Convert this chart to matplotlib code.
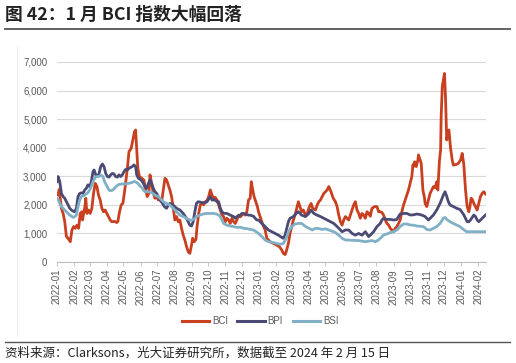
import matplotlib
matplotlib.use('Agg')
import matplotlib.pyplot as plt
import matplotlib.dates as mdates
from matplotlib.lines import Line2D
import pandas as pd

# ---- data: (days since start, index value) ----
start = '2022-01-01'
x_end = '2024-02-15'

bci = [(2, 2350), (4, 2540), (8, 1880), (11, 1700), (14, 1410), (17, 890), (20, 830), (24, 710),
       (27, 1120), (30, 1240), (33, 1180), (36, 1290), (39, 1180), (42, 1700), (45, 1760), (46, 1470),
       (50, 1880), (52, 2230), (54, 1700), (57, 1820), (60, 1700), (63, 1880), (66, 2400), (69, 2750),
       (72, 2650), (75, 2345), (78, 2170), (81, 1880), (84, 1760), (87, 1820), (90, 1700), (93, 1590),
       (96, 1470), (99, 1410), (104, 1420), (108, 1380), (110, 1420), (113, 1760), (116, 2000),
       (119, 2050), (122, 2460), (125, 2930), (128, 3450), (130, 3860), (134, 3980), (137, 4270),
       (140, 4560), (142, 4620), (144, 3920), (146, 3280), (149, 2990), (157, 2870), (160, 2520),
       (163, 2290), (166, 2400), (168, 3050), (171, 2750), (174, 2400), (177, 2230), (180, 2290),
       (183, 2170), (186, 2200), (189, 2110), (192, 2520), (195, 2930), (198, 2870), (201, 2700),
       (204, 2520), (207, 2290), (210, 1880), (213, 1470), (216, 1590), (219, 1410), (222, 1470),
       (225, 1180), (228, 940), (231, 770), (234, 540), (237, 360), (240, 300), (243, 590), (245, 830),
       (248, 710), (251, 790), (253, 1240), (256, 1700), (259, 2000), (262, 2050), (265, 2000),
       (268, 2110), (271, 2150), (274, 2290), (277, 2520), (280, 2345), (283, 2230), (286, 2260),
       (289, 2170), (292, 1990), (295, 1820), (298, 1640), (301, 1590), (304, 1410), (307, 1530),
       (310, 1470), (313, 1350), (316, 1530), (319, 1410), (322, 1350), (325, 1470), (328, 1640),
       (331, 1580), (334, 1640), (337, 1700), (340, 1640), (343, 1760), (346, 2170), (349, 2230),
       (351, 2810), (353, 2580), (356, 2290), (358, 2170), (362, 1940), (364, 1760), (368, 1530),
       (371, 1350), (376, 1120), (379, 830), (385, 710), (391, 650), (397, 590), (402, 530), (406, 420),
       (409, 300), (412, 260), (414, 360), (418, 650), (421, 1000), (424, 1240), (427, 1470),
       (430, 1640), (433, 1880), (436, 2110), (439, 1940), (442, 1760), (445, 1820), (449, 1640),
       (452, 1700), (456, 1940), (459, 2050), (462, 1880), (467, 1820), (470, 1990), (473, 2110),
       (476, 2170), (479, 2290), (482, 2400), (485, 2460), (488, 2520), (491, 2640), (495, 2460),
       (499, 2230), (503, 2110), (506, 1940), (509, 1640), (512, 1410), (515, 1290), (518, 1470),
       (521, 1590), (524, 1530), (527, 1470), (530, 1640), (533, 1820), (536, 2000), (539, 2110),
       (542, 1820), (545, 1700), (548, 1530), (551, 1700), (554, 1640), (557, 1530), (560, 1760),
       (563, 1700), (566, 1600), (569, 1880), (574, 1940), (578, 1940), (581, 1760), (584, 1760),
       (587, 1730), (590, 1640), (593, 1470), (596, 1350), (599, 1295), (602, 1180), (605, 1120),
       (608, 1060), (611, 1180), (614, 1240), (617, 1350), (620, 1470), (623, 1760), (626, 1995),
       (629, 2170), (632, 2345), (635, 2520), (638, 2750), (641, 2990), (643, 3400), (644, 3340),
       (646, 3510), (649, 3340), (652, 3570), (653, 3750), (656, 3570), (658, 3450), (661, 2520),
       (664, 2230), (665, 2050), (668, 1940), (671, 2170), (674, 2400), (677, 2520), (680, 2640),
       (683, 2600), (686, 2810), (688, 2520), (691, 3570), (693, 3920), (694, 5090), (696, 6140),
       (699, 6490), (700, 6600), (702, 5670), (704, 4270), (706, 4500), (708, 4620), (710, 4210),
       (711, 3980), (714, 3570), (716, 3390), (722, 3420), (725, 3450), (729, 3570), (732, 3800),
       (735, 3400), (738, 2520), (741, 1940), (744, 1760), (746, 1940), (748, 2230), (750, 2200),
       (753, 2050), (756, 1940), (759, 1820), (762, 2050), (765, 2290), (768, 2400), (771, 2460),
       (774, 2380)]

bpi = [(0, 2810), (2, 2990), (5, 2810), (8, 2400), (11, 2290), (14, 2230), (17, 2110), (20, 2000),
       (23, 1880), (26, 1820), (29, 1780), (32, 1760), (35, 1880), (38, 2290), (41, 2400), (44, 2420),
       (47, 2400), (50, 2520), (53, 2580), (56, 2700), (59, 2640), (62, 2810), (65, 3160), (67, 3220),
       (70, 3050), (73, 2990), (76, 3100), (79, 3340), (82, 3430), (85, 3340), (88, 3100), (91, 2990),
       (94, 2970), (97, 3050), (100, 3100), (103, 3080), (106, 2990), (109, 2970), (112, 3050),
       (115, 2990), (118, 3050), (121, 3160), (124, 3240), (127, 3220), (130, 3280), (133, 3310),
       (136, 3340), (139, 3400), (142, 3340), (144, 3050), (147, 2930), (152, 2870), (156, 2750),
       (159, 2640), (162, 2580), (165, 2750), (168, 2870), (171, 2750), (174, 2580), (177, 2460),
       (180, 2400), (183, 2290), (186, 2170), (189, 2100), (192, 2000), (195, 1920), (198, 1880),
       (201, 1990), (204, 2050), (210, 1990), (216, 1880), (222, 1820), (228, 1700), (234, 1530),
       (237, 1410), (240, 1290), (243, 1260), (246, 1410), (249, 1760), (252, 2050), (255, 2110),
       (262, 2080), (268, 2080), (271, 2110), (274, 2200), (277, 2290), (280, 2170), (286, 2170),
       (289, 2110), (292, 2110), (295, 1880), (298, 1760), (301, 1700), (307, 1700), (313, 1640),
       (319, 1590), (322, 1530), (325, 1590), (331, 1640), (334, 1700), (340, 1680), (346, 1640),
       (349, 1640), (355, 1600), (358, 1530), (361, 1470), (364, 1470), (370, 1350), (376, 1240),
       (382, 1120), (388, 1060), (394, 1000), (400, 940), (406, 860), (409, 830), (412, 940),
       (415, 1180), (418, 1410), (421, 1530), (427, 1590), (432, 1700), (436, 1760), (442, 1640),
       (449, 1590), (455, 1700), (459, 1820), (464, 1700), (470, 1640), (476, 1590), (482, 1530),
       (488, 1470), (494, 1410), (500, 1350), (506, 1240), (512, 1120), (515, 1060), (521, 1120),
       (527, 1120), (533, 1000), (539, 940), (545, 1000), (551, 940), (557, 1060), (563, 890),
       (566, 940), (572, 1060), (578, 1240), (584, 1350), (587, 1470), (590, 1530), (596, 1490),
       (602, 1490), (608, 1470), (614, 1490), (617, 1590), (620, 1680), (626, 1700), (632, 1700),
       (638, 1645), (644, 1650), (650, 1680), (656, 1660), (662, 1620), (665, 1590), (671, 1470),
       (674, 1530), (680, 1645), (686, 1820), (692, 2050), (698, 2345), (701, 2460), (704, 2300),
       (707, 2110), (710, 1995), (716, 1940), (722, 1880), (728, 1840), (731, 1760), (735, 1645),
       (738, 1530), (741, 1410), (744, 1410), (747, 1470), (750, 1560), (753, 1645), (756, 1590),
       (759, 1470), (762, 1410), (765, 1470), (768, 1530), (771, 1590), (774, 1645)]

bsi = [(0, 2230), (3, 2150), (5, 2050), (8, 1940), (11, 1880), (14, 1820), (17, 1760), (20, 1700),
       (23, 1640), (26, 1610), (29, 1560), (32, 1590), (35, 1640), (38, 1940), (41, 2170), (44, 2290),
       (50, 2340), (56, 2430), (59, 2520), (62, 2640), (65, 2810), (68, 2930), (71, 2990), (74, 2990),
       (77, 3010), (80, 3030), (83, 2990), (86, 2810), (89, 2700), (92, 2580), (95, 2500), (99, 2500),
       (102, 2540), (105, 2610), (108, 2660), (111, 2710), (117, 2730), (123, 2730), (129, 2750),
       (135, 2780), (140, 2820), (144, 2780), (147, 2730), (150, 2660), (153, 2610), (156, 2520),
       (159, 2460), (165, 2460), (171, 2430), (177, 2340), (183, 2290), (189, 2170), (192, 2110),
       (198, 2050), (204, 1990), (210, 1880), (216, 1760), (222, 1640), (228, 1590), (234, 1530),
       (240, 1470), (243, 1460), (246, 1490), (249, 1530), (252, 1590), (258, 1640), (264, 1680),
       (270, 1700), (282, 1700), (288, 1680), (292, 1640), (295, 1590), (298, 1470), (301, 1350),
       (307, 1290), (313, 1260), (319, 1240), (325, 1210), (331, 1220), (337, 1180), (343, 1170),
       (349, 1140), (355, 1120), (364, 1000), (370, 890), (376, 770), (382, 710), (391, 680),
       (397, 650), (403, 620), (409, 650), (414, 830), (418, 1060), (424, 1240), (430, 1330),
       (436, 1350), (442, 1350), (449, 1240), (455, 1180), (461, 1120), (467, 1180), (473, 1170),
       (479, 1140), (485, 1160), (491, 1120), (497, 1080), (503, 1030), (509, 940), (515, 830),
       (521, 770), (545, 750), (557, 710), (569, 750), (575, 710), (580, 760), (584, 830), (590, 945),
       (596, 980), (602, 1030), (608, 1060), (614, 1120), (620, 1240), (626, 1330), (632, 1330),
       (638, 1295), (644, 1290), (650, 1260), (656, 1250), (662, 1240), (668, 1140), (674, 1120),
       (680, 1180), (686, 1240), (692, 1350), (698, 1530), (701, 1560), (704, 1490), (710, 1410),
       (716, 1350), (722, 1295), (728, 1240), (734, 1140), (740, 1060), (747, 1060), (759, 1060),
       (765, 1060), (774, 1060)]

series = [('BCI', bci, '#c8401f'),
          ('BPI', bpi, '#4b4a75'),
          ('BSI', bsi, '#7fb0c6')]

yticks = [0, 1000, 2000, 3000, 4000, 5000, 6000, 7000]

title = '图 42：1 月 BCI 指数大幅回落'
source = '资料来源：Clarksons，光大证券研究所，数据截至 2024 年 2 月 15 日'

# ---- figure ----
W, H = 516, 363
fig = plt.figure(figsize=(W / 100, H / 100), dpi=100)
cjk = ['Noto Sans CJK SC', 'DejaVu Sans']
latin = ['Liberation Sans', 'DejaVu Sans']
grey = '#595959'

ax = fig.add_axes([57 / W, 1 - 262 / H, (486 - 57) / W, 200 / H])
base = pd.Timestamp(start)
for name, pts, col in series:
    days = [p[0] for p in pts]
    vals = [p[1] for p in pts]
    dates = base + pd.to_timedelta(days, unit='D')
    ax.plot(dates, vals, color=col, lw=2.0, label=name, solid_joinstyle='round')

ax.set_xlim(base, pd.Timestamp(x_end))
ax.set_ylim(0, 7000)
ax.set_yticks(yticks)
ax.set_yticklabels([f'{v:,}' for v in yticks], fontfamily=latin, fontsize=7, color=grey)
ax.xaxis.set_major_locator(mdates.MonthLocator())
ax.xaxis.set_major_formatter(mdates.DateFormatter('%Y-%m'))
for lab in ax.get_xticklabels():
    lab.set_rotation(90)
    lab.set_fontfamily(latin)
    lab.set_fontsize(7)
    lab.set_color(grey)
ax.tick_params(axis='y', length=0, pad=7)
ax.tick_params(axis='x', length=3, width=0.6, color='#bfbfbf', pad=2)
ax.grid(axis='y', color='#d9d9d9', lw=0.8)
ax.set_axisbelow(True)
for s in ['top', 'right', 'left']:
    ax.spines[s].set_visible(False)
ax.spines['bottom'].set_color('#bfbfbf')
ax.spines['bottom'].set_linewidth(0.8)

leg = fig.legend(loc='center', bbox_to_anchor=(260 / W, 1 - 321 / H), ncol=3, frameon=False,
                 handlelength=2.8, handletextpad=0.3, columnspacing=1.0,
                 prop={'family': latin, 'size': 7})
for t in leg.get_texts():
    t.set_color(grey)
for h in leg.legend_handles:
    h.set_linewidth(2.2)

# title, rules, faint frame line and source note
fig.text(5 / W, 1 - 15 / H, title, fontfamily=cjk, fontsize=12.8, fontweight='bold',
         va='center', ha='left', color='#222222')
fig.add_artist(Line2D([5 / W, 510 / W], [1 - 29 / H, 1 - 29 / H], color='#555555', lw=1.3))
fig.add_artist(Line2D([17 / W, 17 / W], [1 - 47 / H, 1 - 336 / H], color='#eeeeee', lw=0.8))
fig.add_artist(Line2D([5 / W, 510 / W], [1 - 342 / H, 1 - 342 / H], color='#555555', lw=1.0))
fig.text(5 / W, 1 - 353 / H, source, fontfamily=cjk, fontsize=9, va='center', ha='left',
         color='#222222')

fig.savefig('out.png', dpi=100)
